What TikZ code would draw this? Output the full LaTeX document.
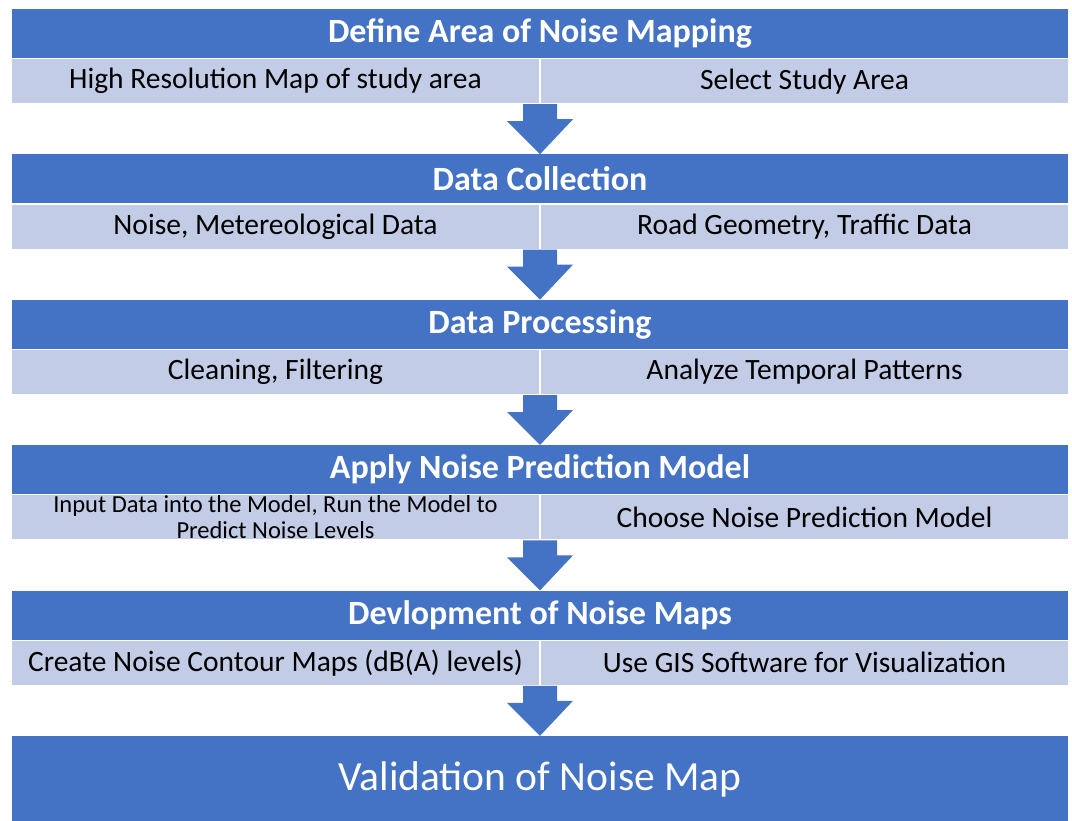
\documentclass[tikz,border=0pt]{standalone}
\usepackage{fontspec}
\setmainfont{Carlito}
\usetikzlibrary{positioning, calc}
\definecolor{headcolor}{RGB}{68,114,196}
\definecolor{cellcolor}{RGB}{195,204,230}

\begin{document}
\begin{tikzpicture}[
    x=1pt, y=1pt,
    stage/.style={rectangle, fill=headcolor, text=white, minimum width=1056pt, minimum height=49pt, inner sep=0pt, font=\bfseries\fontsize{34}{36}\selectfont},
    task/.style={rectangle, fill=cellcolor, draw=white, line width=1pt, minimum width=528pt, minimum height=45pt, inner sep=0pt, text=black, font=\fontsize{29.5}{32}\selectfont},
    blockarrow/.style={fill=headcolor},
    node distance=50pt
]
    \useasboundingbox (0,0) rectangle (1072,-821);

    % Define area
    \node[stage] (area) at (540,-33.5) {Define Area of Noise Mapping};
    \node[task, anchor=north east] (area-l) at (area.south) {High Resolution Map of study area};
    \node[task, anchor=north west] (area-r) at (area.south) {Select Study Area};

    % Data collection
    \node[stage, below=of area-l.south east] (coll) {Data Collection};
    \node[task, anchor=north east] (coll-l) at (coll.south) {Noise, Metereological Data};
    \node[task, anchor=north west] (coll-r) at (coll.south) {Road Geometry, Traffic Data};

    % Data processing
    \node[stage, below=of coll-l.south east] (proc) {Data Processing};
    \node[task, anchor=north east] (proc-l) at (proc.south) {Cleaning, Filtering};
    \node[task, anchor=north west] (proc-r) at (proc.south) {Analyze Temporal Patterns};

    % Prediction model
    \node[stage, below=of proc-l.south east] (model) {Apply Noise Prediction Model};
    \node[task, anchor=north east, align=center, font=\fontsize{24.5}{26}\selectfont] (model-l) at (model.south) {Input Data into the Model, Run the Model to\\Predict Noise Levels};
    \node[task, anchor=north west] (model-r) at (model.south) {Choose Noise Prediction Model};

    % Noise maps
    \node[stage, below=of model-l.south east] (maps) {Devlopment of Noise Maps};
    \node[task, anchor=north east] (maps-l) at (maps.south) {Create Noise Contour Maps (dB(A) levels)};
    \node[task, anchor=north west] (maps-r) at (maps.south) {Use GIS Software for Visualization};

    % Validation
    \node[stage, below=of maps-l.south east, minimum height=87pt, font=\fontsize{41.5}{44}\selectfont] (valid) {Validation of Noise Map};

    % Block arrows between the stages
    \fill[blockarrow] (area-l.south east) ++(-17,0) -- ++(34,0) -- ++(0,-15) -- ++(16,0) -- (coll.north) -- ++(-33,33) -- ++(16,0) -- cycle;
    \fill[blockarrow] (coll-l.south east) ++(-17,0) -- ++(34,0) -- ++(0,-15) -- ++(16,0) -- (proc.north) -- ++(-33,33) -- ++(16,0) -- cycle;
    \fill[blockarrow] (proc-l.south east) ++(-17,0) -- ++(34,0) -- ++(0,-15) -- ++(16,0) -- (model.north) -- ++(-33,33) -- ++(16,0) -- cycle;
    \fill[blockarrow] (model-l.south east) ++(-17,0) -- ++(34,0) -- ++(0,-15) -- ++(16,0) -- (maps.north) -- ++(-33,33) -- ++(16,0) -- cycle;
    \fill[blockarrow] (maps-l.south east) ++(-17,0) -- ++(34,0) -- ++(0,-15) -- ++(16,0) -- (valid.north) -- ++(-33,33) -- ++(16,0) -- cycle;

\end{tikzpicture}
\end{document}
